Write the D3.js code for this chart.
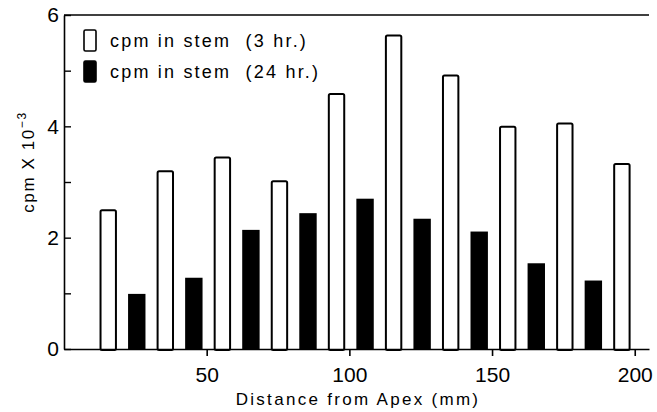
<!DOCTYPE html>
<html>
<head>
<meta charset="utf-8">
<script src="https://cdn.jsdelivr.net/npm/d3@7"></script>
<style>
  body { margin: 0; background: #fff; }
  svg text { font-family: "Liberation Sans", Arial, sans-serif; fill: #000; }
</style>
</head>
<body>
<div id="chart"></div>
<script>
// bar centres in mm from the apex, values in cpm x 10^-3
var pos3hr = [15.5, 35.5, 55.5, 75.5, 95.5, 115.5, 135.5, 155.5, 175.5, 195.5];
var cpm3hr = [2.51, 3.21, 3.46, 3.03, 4.6, 5.65, 4.93, 4.01, 4.07, 3.34];
var pos24hr = [25.5, 45.5, 65.5, 85.5, 105.5, 125.5, 145.5, 165.5, 185.5];
var cpm24hr = [0.99, 1.28, 2.14, 2.44, 2.7, 2.34, 2.11, 1.54, 1.23];
var xTicks = [50, 100, 150, 200];
var yTicks = [0, 1, 2, 3, 4, 5, 6];
var legendLabels = ["cpm in stem  (3 hr.)", "cpm in stem  (24 hr.)"];

var width = 657, height = 412;
var barMM = 6.1;

var svg = d3.select("#chart").append("svg")
  .attr("width", width)
  .attr("height", height);

var x = d3.scaleLinear().domain([0, 205]).range([64, 649]);
var y = d3.scaleLinear().domain([0, 6]).range([349, 15]);
var bw = x(barMM) - x(0);

// bars, 3 hr (open)
svg.append("g")
  .selectAll("rect")
  .data(pos3hr.map(function(p, i) { return {x: p, v: cpm3hr[i]}; }))
  .enter().append("rect")
  .attr("x", function(d) { return x(d.x) - bw / 2 + 1; })
  .attr("width", bw - 2)
  .attr("y", function(d) { return y(d.v) + 1; })
  .attr("height", function(d) { return y(0) - y(d.v); })
  .attr("rx", 1.5)
  .style("fill", "#fff")
  .style("stroke", "#000")
  .style("stroke-width", 2);

// bars, 24 hr (filled)
svg.append("g")
  .selectAll("rect")
  .data(pos24hr.map(function(p, i) { return {x: p, v: cpm24hr[i]}; }))
  .enter().append("rect")
  .attr("x", function(d) { return x(d.x) - bw / 2; })
  .attr("width", bw)
  .attr("y", function(d) { return y(d.v); })
  .attr("height", function(d) { return y(0) - y(d.v); })
  .style("fill", "#000");

// x axis
var xAxis = svg.append("g")
  .attr("transform", "translate(0," + y(0) + ")")
  .call(d3.axisBottom(x).tickValues(xTicks).tickSize(7).tickSizeOuter(0).tickPadding(11));
xAxis.select(".domain").attr("stroke-width", 1.6);
xAxis.selectAll(".tick line").attr("stroke-width", 1.6);
xAxis.selectAll("text").style("font-size", "21px").attr("fill", "#000");

// y axis, ticks point inward
var yAxis = svg.append("g")
  .attr("transform", "translate(" + x(0) + ",0)")
  .call(d3.axisLeft(y).tickValues(yTicks).tickSizeInner(-7).tickSizeOuter(0).tickPadding(5)
    .tickFormat(function(d) { return d % 2 === 0 ? d : ""; }));
yAxis.select(".domain").attr("stroke-width", 1.6);
yAxis.selectAll(".tick line").attr("stroke-width", 1.4);
yAxis.selectAll("text").style("font-size", "21px").attr("fill", "#000");

// top frame line
svg.append("line")
  .attr("x1", x(0)).attr("x2", x(205))
  .attr("y1", y(6)).attr("y2", y(6))
  .style("stroke", "#000")
  .style("stroke-width", 1.4);

// legend
var legend = svg.append("g");
legendLabels.forEach(function(lab, i) {
  legend.append("rect")
    .attr("x", 84).attr("y", 30 + i * 31)
    .attr("width", 12).attr("height", 21)
    .attr("rx", 1.5)
    .style("fill", i === 0 ? "#fff" : "#000")
    .style("stroke", "#000")
    .style("stroke-width", 1.6);
  legend.append("text")
    .attr("x", 110).attr("y", 47 + i * 31)
    .style("font-size", "18px")
    .style("letter-spacing", "2.2px")
    .style("white-space", "pre")
    .text(lab);
});

// axis titles
svg.append("text")
  .attr("x", 358).attr("y", 405)
  .attr("text-anchor", "middle")
  .style("font-size", "17px")
  .style("letter-spacing", "2.3px")
  .text("Distance from Apex (mm)");

var yTitle = svg.append("text")
  .attr("transform", "translate(34,162) rotate(-90)")
  .attr("text-anchor", "middle")
  .style("font-size", "17px")
  .style("letter-spacing", "1.6px");
yTitle.append("tspan").text("cpm  X  10");
yTitle.append("tspan").attr("dy", -8).style("font-size", "12px").text("\u22123");
</script>
</body>
</html>
